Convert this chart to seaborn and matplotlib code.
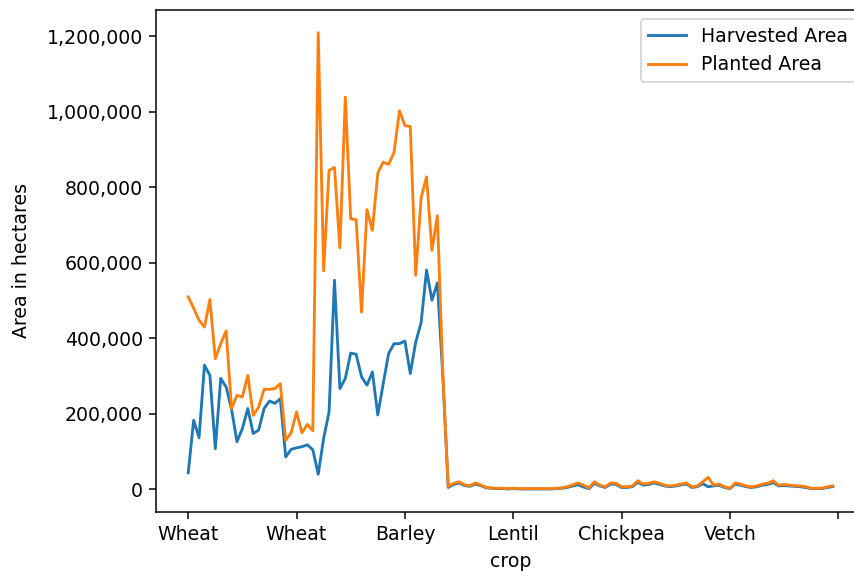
import matplotlib
matplotlib.use("Agg")
import matplotlib.pyplot as plt
import pandas as pd
import seaborn as sns
from matplotlib.ticker import StrMethodFormatter

# Crop label for each record, in table order
crop = (["Wheat"] * 36 + ["Barley"] * 12 + ["Lentil"] * 24
        + ["Chickpea"] * 24 + ["Vetch"] * 24)

# Harvested area per record (hectares)
harvested = [
    44000, 183000, 137000, 329000, 302000, 108000, 294000, 271000, 212000, 126000,
    161000, 214000, 148000, 157000, 214000, 234000, 228000, 240000, 86000, 106000,
    110000, 113000, 118000, 105000, 40000, 135000, 205000, 554000, 267000, 294000,
    361000, 358000, 298000, 276000, 311000, 197000, 280000, 360000, 386000, 386000,
    393000, 307000, 390000, 442000, 581000, 501000, 547000, 300000, 5000, 13000,
    17000, 10000, 8000, 14000, 10000, 4000, 3000, 2000, 2000, 1000,
    2000, 1000, 1000, 1000, 1000, 1000, 1000, 1000, 2000, 3000,
    5000, 9000, 12000, 6000, 2000, 16000, 9000, 5000, 14000, 13000,
    5000, 5000, 7000, 19000, 11000, 13000, 17000, 13000, 9000, 7000,
    9000, 12000, 14000, 5000, 7000, 15000, 7000, 9000, 11000, 5000,
    2000, 14000, 11000, 7000, 5000, 7000, 11000, 13000, 18000, 9000,
    10000, 9000, 8000, 7000, 5000, 2000, 2000, 2000, 5000, 7000,
]

# Planted area per record (hectares)
planted = [
    510000, 480000, 448000, 430000, 503000, 346000, 386000, 420000, 214000, 249000,
    245000, 302000, 196000, 218000, 265000, 265000, 267000, 280000, 130000, 150000,
    205000, 150000, 172000, 155000, 1210000, 579000, 845000, 853000, 640000, 1039000,
    717000, 714000, 470000, 741000, 686000, 838000, 867000, 861000, 893000, 1003000,
    964000, 961000, 567000, 772000, 828000, 633000, 725000, 310000, 8000, 16000,
    20000, 12000, 9000, 17000, 12000, 5000, 4000, 3000, 3000, 2000,
    3000, 2000, 2000, 2000, 2000, 2000, 2000, 2000, 3000, 4000,
    7000, 12000, 17000, 11000, 4000, 20000, 11000, 7000, 17000, 16000,
    7000, 7000, 9000, 23000, 14000, 16000, 20000, 16000, 11000, 9000,
    11000, 14000, 17000, 7000, 9000, 20000, 32000, 11000, 14000, 7000,
    3000, 17000, 14000, 9000, 7000, 9000, 14000, 16000, 23000, 11000,
    13000, 11000, 10000, 9000, 7000, 3000, 3000, 3000, 7000, 9000,
]

series_names = ["Harvested Area", "Planted Area"]
colors = ["#1f77b4", "#ff7f0e"]

df = pd.DataFrame({
    "idx": range(len(crop)),
    "crop": crop,
    "Harvested Area": harvested,
    "Planted Area": planted,
})
long_df = df.melt(id_vars=["idx", "crop"], value_vars=series_names,
                  var_name="series", value_name="area")

DPI = 136
W, H = 854, 571
fig = plt.figure(figsize=(W / DPI, H / DPI), dpi=DPI)
ax = fig.add_axes([156 / W, 1 - 512 / H, (865 - 156) / W, (512 - 10) / H])

sns.lineplot(data=long_df, x="idx", y="area", hue="series",
             hue_order=series_names, palette=colors, linewidth=1.5, ax=ax)

tick_pos = list(range(0, 121, 20))
tick_lab = [crop[t] if t < len(crop) else "" for t in tick_pos]
ax.set_xticks(tick_pos)
ax.set_xticklabels(tick_lab)
ax.set_xlim(-5.95, 124.95)
ax.set_ylim(-60000, 1270000)
ax.yaxis.set_major_formatter(StrMethodFormatter("{x:,.0f}"))
ax.set_xlabel("crop")
ax.set_ylabel("Area in hectares", labelpad=8)

handles, labels = ax.get_legend_handles_labels()
ax.legend(handles, labels, loc="upper right")

fig.savefig("out.png", dpi=DPI)
